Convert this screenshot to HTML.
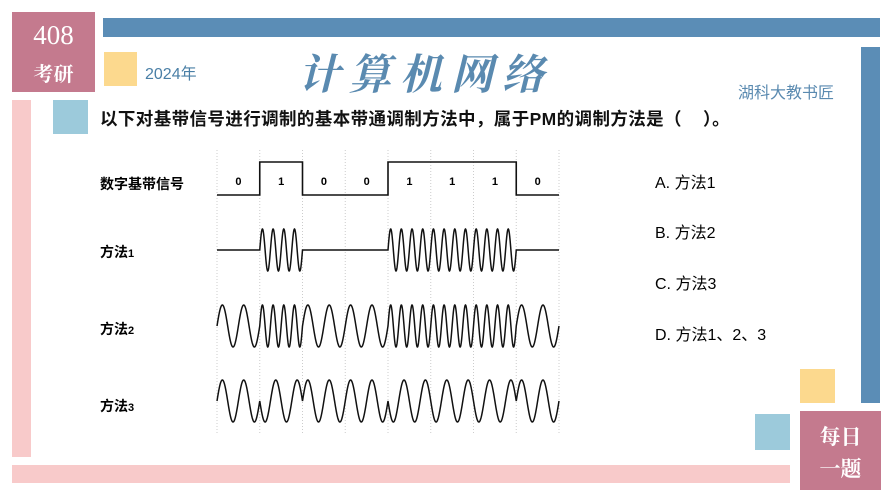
<!DOCTYPE html>
<html><head><meta charset="utf-8"><style>
body{margin:0;width:894px;height:503px;background:#fff;position:relative;overflow:hidden;font-family:"Liberation Sans","Noto Sans CJK SC",sans-serif}
.a{position:absolute}
</style></head><body>
<div class="a" style="left:12px;top:12px;width:83px;height:80px;background:#c47a8e"></div>
<div class="a" style="left:12px;top:20px;width:83px;text-align:center;color:#fff;font-family:'Liberation Serif',serif;font-size:27px">408</div>
<div class="a" style="left:12px;top:58px;width:83px;text-align:center;color:#fff;font-family:'Noto Serif CJK SC',serif;font-weight:bold;font-size:20px">考研</div>
<div class="a" style="left:103px;top:18px;width:777px;height:19px;background:#5b8db6"></div>
<div class="a" style="left:861px;top:47px;width:19px;height:356px;background:#5b8db6"></div>
<div class="a" style="left:104px;top:52px;width:33px;height:34px;background:#fcd98e"></div>
<div class="a" style="left:145px;top:60px;color:#4a7fa6;font-size:16px">2024年</div>
<div class="a" style="left:298px;top:42px;color:#5a8ab0;font-family:'Noto Serif CJK SC',serif;font-weight:bold;font-size:42px;letter-spacing:9px;font-style:italic">计算机网络</div>
<div class="a" style="left:738px;top:79px;color:#5a8ab0;font-size:16px">湖科大教书匠</div>
<div class="a" style="left:12px;top:100px;width:19px;height:357px;background:#f8caca"></div>
<div class="a" style="left:53px;top:100px;width:35px;height:34px;background:#9ccadb"></div>
<div class="a" style="left:100px;top:106px;font-size:17.5px;font-weight:bold;color:#111;white-space:pre;letter-spacing:0.4px">以下对基带信号进行调制的基本带通调制方法中，属于PM的调制方法是（    ）。</div>
<div class="a" style="left:12px;top:465px;width:778px;height:18px;background:#f8caca"></div>
<div class="a" style="left:800px;top:369px;width:35px;height:34px;background:#fcd98e"></div>
<div class="a" style="left:755px;top:414px;width:35px;height:36px;background:#9ccadb"></div>
<div class="a" style="left:800px;top:411px;width:81px;height:79px;background:#c47a8e"></div>
<div class="a" style="left:800px;top:420px;width:81px;text-align:center;color:#fff;font-family:'Noto Serif CJK SC',serif;font-weight:bold;font-size:21px;line-height:32px">每日<br>一题</div>
<div class="a" style="left:100px;top:174px;font-size:14px;font-weight:bold">数字基带信号</div>
<div class="a" style="left:100px;top:242px;font-size:14px;font-weight:bold">方法<span style="font-size:11px">1</span></div>
<div class="a" style="left:100px;top:319px;font-size:14px;font-weight:bold">方法<span style="font-size:11px">2</span></div>
<div class="a" style="left:100px;top:396px;font-size:14px;font-weight:bold">方法<span style="font-size:11px">3</span></div>
<div class="a" style="left:655px;top:174px;font-size:16px;line-height:20px">A. 方法1</div>
<div class="a" style="left:655px;top:224px;font-size:16px;line-height:20px">B. 方法2</div>
<div class="a" style="left:655px;top:275px;font-size:16px;line-height:20px">C. 方法3</div>
<div class="a" style="left:655px;top:326px;font-size:16px;line-height:20px">D. 方法1、2、3</div>
<svg class="a" style="left:0;top:0" width="894" height="503" id="s"></svg>
<script>
var s=document.getElementById('s'),bits=[0,1,0,0,1,1,1,0],x0=217,w=42.75,h='';
for(var i=0;i<=8;i++){var x=x0+i*w;h+='<line x1="'+x+'" y1="150" x2="'+x+'" y2="435" stroke="#ccc" stroke-dasharray="1,2"/>';}
var d='',t='';
for(i=0;i<8;i++){var y=bits[i]?162:195,xa=x0+i*w;d+=(i?'L':'M')+xa+','+y+'L'+(xa+w)+','+y;
t+='<text x="'+(xa+w/2)+'" y="185" text-anchor="middle" font-size="11" font-weight="bold" font-family="Liberation Sans">'+bits[i]+'</text>';}
h+='<path d="'+d+'" fill="none" stroke="#111" stroke-width="1.6"/>'+t;
function wave(cy,f){var p='';for(var k=0;k<=8*w*4;k++){var x=x0+k/4,i=Math.min(7,Math.floor((x-x0)/w)),y=f(x-x0,i,bits[i]);p+=(k?'L':'M')+x.toFixed(2)+','+(cy-y).toFixed(2);}
return '<path d="'+p+'" fill="none" stroke="#111" stroke-width="1.5"/>';}
var A=21;
h+=wave(250,function(u,i,b){return b?A*Math.sin(2*Math.PI*4*u/w):0;});
h+=wave(326,function(u,i,b){return A*Math.sin(2*Math.PI*(b?4:2)*u/w);});
h+=wave(401,function(u,i,b){return (b?-1:1)*A*Math.sin(2*Math.PI*2*u/w);});
s.innerHTML=h;
</script>
</body></html>
